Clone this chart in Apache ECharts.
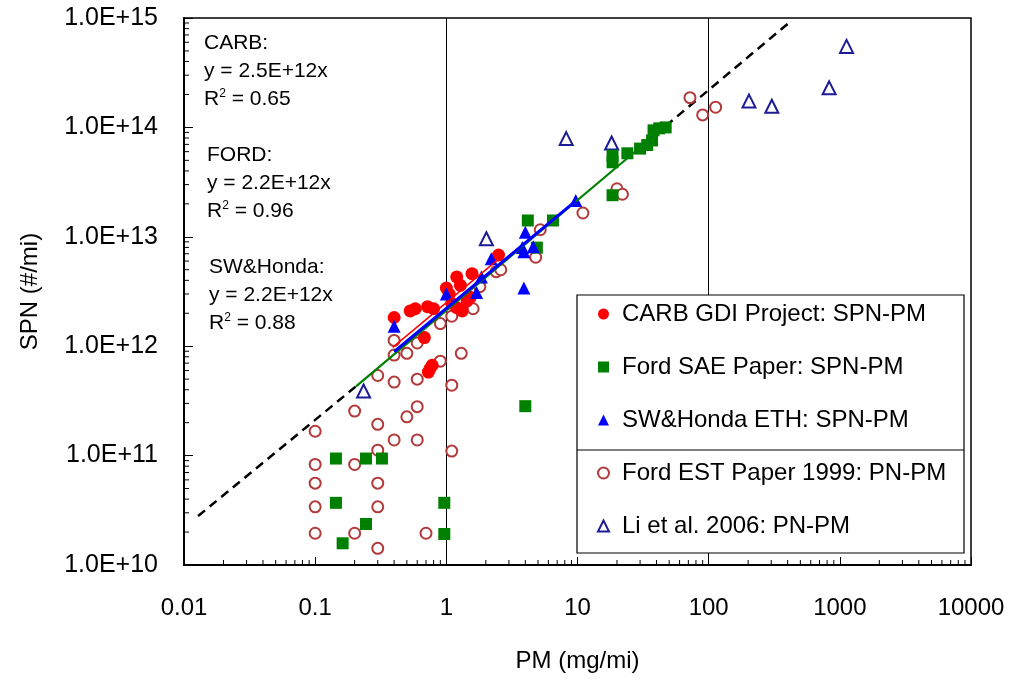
<!DOCTYPE html>
<html>
<head>
<meta charset="UTF-8">
<title>SPN vs PM</title>
<script src="https://cdn.jsdelivr.net/npm/echarts@6/dist/echarts.min.js"></script>
<style>
    html, body { margin: 0; padding: 0; background: #fff; }
    #chart { width: 1013px; height: 688px; }
</style>
</head>
<body>
<div id="chart"></div>
<script>
// [PM mg/mi, SPN #/mi]
var carbData = [
    [0.40, 1.83e12], [0.53, 2.1e12], [0.58, 2.2e12], [0.72, 2.3e12], [0.80, 2.2e12],
    [0.68, 1.2e12], [0.78, 6.7e11], [0.73, 5.8e11], [0.75, 6.2e11], [1.0, 3.4e12],
    [1.2, 4.3e12], [1.28, 3.6e12], [1.2, 2.25e12], [1.32, 2.1e12], [1.44, 2.6e12],
    [1.57, 4.6e12], [1.52, 2.8e12], [2.5, 6.8e12], [1.1, 2.47e12], [1.05, 3.0e12]
];
var fordSaeData = [
    [0.144, 9.4e10], [0.244, 9.4e10], [0.323, 9.4e10], [0.144, 3.7e10], [0.244, 2.37e10],
    [0.162, 1.58e10], [0.965, 3.7e10], [0.965, 1.92e10], [4.0, 2.83e11], [4.18, 1.41e13],
    [6.5, 1.41e13], [4.9, 7.96e12], [18.5, 2.4e13], [18.5, 4.8e13], [18.5, 5.5e13],
    [24, 5.8e13], [30, 6.4e13], [34, 6.9e13], [37, 7.6e13], [38, 9.4e13], [42, 9.8e13], [47, 1.0e14]
];
var swHondaData = [
    [0.40, 1.52e12], [1.0, 3.0e12], [1.7, 3.1e12], [2.2, 6.3e12], [3.9, 3.4e12],
    [3.9, 7.3e12], [4.0, 1.1e13], [4.6, 8.1e12], [9.7, 2.15e13], [1.85, 4.3e12], [3.8, 8.0e12]
];
var fordEstData = [
    [0.1, 1.67e11], [0.1, 8.3e10], [0.1, 5.6e10], [0.1, 3.4e10], [0.1, 1.95e10],
    [0.2, 2.55e11], [0.2, 8.3e10], [0.2, 1.95e10], [0.3, 5.4e11], [0.3, 1.93e11],
    [0.3, 1.12e11], [0.3, 5.6e10], [0.3, 3.4e10], [0.3, 1.42e10], [0.4, 1.13e12],
    [0.4, 8.3e11], [0.4, 4.7e11], [0.4, 1.39e11], [0.5, 8.6e11], [0.5, 2.26e11],
    [0.6, 1.07e12], [0.6, 5.0e11], [0.6, 2.8e11], [0.6, 1.39e11], [0.7, 1.95e10],
    [0.9, 1.61e12], [0.9, 7.3e11], [1.1, 1.88e12], [1.1, 4.4e11], [1.1, 1.1e11],
    [1.3, 8.6e11], [1.6, 2.2e12], [1.8, 3.5e12], [2.4, 4.8e12], [2.6, 5.0e12],
    [4.8, 6.5e12], [5.2, 1.16e13], [11, 1.65e13], [20, 2.75e13], [22, 2.45e13],
    [72, 1.87e14], [90, 1.3e14], [113, 1.53e14]
];
var liData = [
    [0.234, 3.9e11], [2.02, 9.6e12], [8.2, 7.9e13], [18.2, 7.2e13],
    [203, 1.74e14], [303, 1.56e14], [829, 2.3e14], [1125, 5.5e14]
];

// fit lines, end points
var carbFit = [[0.39, 9.75e11], [2.58, 6.45e12]];
var fordFit = [[0.205, 4.3e11], [47, 1.03e14]];
var swFit = [[0.40, 8.9e11], [9.7, 2.13e13]];
// dashed extension, below and above the FORD fit
var dashLow = [[0.0128, 2.8e10], [0.205, 4.3e11]];
var dashHigh = [[47, 1.03e14], [430, 9.5e14]];

var xTickLabels = ['0.01', '0.1', '1', '10', '100', '1000', '10000'];
var yTickLabels = ['1.0E+10', '1.0E+11', '1.0E+12', '1.0E+13', '1.0E+14', '1.0E+15'];
var refLinesX = [1, 100];

// minor ticks 2..9 in each decade
var xMinor = [], yMinor = [];
for (var e = -2; e < 4; e++) {
    for (var k = 2; k < 10; k++) xMinor.push([k * Math.pow(10, e), 1e10]);
}
for (var e2 = 10; e2 < 15; e2++) {
    for (var k2 = 2; k2 < 10; k2++) yMinor.push([0.01, k2 * Math.pow(10, e2)]);
}

var font = 'Liberation Sans, Arial, sans-serif';

var chart = echarts.init(document.getElementById('chart'));

function annot(txt, x, y) {
    return {
        type: 'text', x: x, y: y, z: 5,
        style: {
            text: txt, font: '21px ' + font, fill: '#000',
            textVerticalAlign: 'middle',
            rich: { sup: { fontSize: 12, verticalAlign: 'top', padding: [0, 0, 10, 0], fontFamily: font } }
        }
    };
}

function dashed(name, data) {
    return {
        name: name, type: 'line', data: data, z: 1, showSymbol: false, silent: true,
        lineStyle: { color: '#000', width: 2.5, type: [9, 6] }
    };
}

var option = {
    animation: false,
    backgroundColor: '#fff',
    grid: { left: 184, top: 18, right: 42, bottom: 123, show: true, borderColor: '#000', borderWidth: 1.5 },
    xAxis: {
        type: 'log', logBase: 10, min: 0.01, max: 10000, splitNumber: 6,
        name: 'PM (mg/mi)', nameLocation: 'middle', nameGap: 84,
        nameTextStyle: { fontSize: 24, fontFamily: font, color: '#000' },
        axisLine: { lineStyle: { color: '#000', width: 2 } },
        axisTick: { inside: true, length: 8, lineStyle: { color: '#000' } },
        axisLabel: {
            margin: 31, fontSize: 24, fontFamily: font, color: '#000',
            formatter: function (v) { return xTickLabels[Math.round(Math.log10(v)) + 2]; }
        },
        splitLine: { show: false }
    },
    yAxis: {
        type: 'log', logBase: 10, min: 1e10, max: 1e15, splitNumber: 5,
        name: 'SPN (#/mi)', nameLocation: 'middle', nameGap: 142, nameRotate: 90,
        nameTextStyle: { fontSize: 24, fontFamily: font, color: '#000' },
        axisLine: { lineStyle: { color: '#000', width: 2 } },
        axisTick: { inside: true, length: 9, lineStyle: { color: '#000' } },
        axisLabel: {
            margin: 26, fontSize: 25, fontFamily: font, color: '#000',
            formatter: function (v) { return yTickLabels[Math.round(Math.log10(v)) - 10]; }
        },
        splitLine: { show: false }
    },
    legend: {
        orient: 'vertical', left: 597, top: 302, z: 7,
        itemWidth: 11, itemHeight: 11, itemGap: 29, padding: 0,
        textStyle: { fontSize: 24, fontFamily: font, color: '#000', lineHeight: 24, padding: [0, 0, 0, 8] },
        data: ['CARB GDI Project: SPN-PM', 'Ford SAE Paper: SPN-PM', 'SW&Honda ETH: SPN-PM',
               'Ford EST Paper 1999: PN-PM', 'Li et al. 2006: PN-PM']
    },
    graphic: [
        { type: 'rect', z: 6, shape: { x: 577, y: 295, width: 387, height: 258 },
          style: { fill: '#fff', stroke: '#000', lineWidth: 1.2 } },
        { type: 'line', z: 6, shape: { x1: 577, y1: 450, x2: 964, y2: 450 },
          style: { stroke: '#000', lineWidth: 1.2 } },
        annot('CARB:', 204, 43),
        annot('y = 2.5E+12x', 204, 71),
        annot('R{sup|2} = 0.65', 204, 99),
        annot('FORD:', 207, 155),
        annot('y = 2.2E+12x', 207, 183),
        annot('R{sup|2} = 0.96', 207, 211),
        annot('SW&Honda:', 209, 267),
        annot('y = 2.2E+12x', 209, 295),
        annot('R{sup|2} = 0.88', 209, 323)
    ],
    series: [
        {
            name: 'ref lines', type: 'line', data: [], z: 1, silent: true,
            markLine: {
                silent: true, symbol: 'none', label: { show: false }, z: 1,
                lineStyle: { color: '#000', width: 1, type: 'solid' },
                data: refLinesX.map(function (v) { return { xAxis: v }; })
            }
        },
        dashed('dash low', dashLow),
        dashed('dash high', dashHigh),
        {
            name: 'x minor', type: 'custom', data: xMinor, z: 2, silent: true,
            renderItem: function (params, api) {
                var p = api.coord([api.value(0), api.value(1)]);
                return { type: 'line', shape: { x1: p[0], y1: p[1], x2: p[0], y2: p[1] - 5 }, style: { stroke: '#000', lineWidth: 1 } };
            }
        },
        {
            name: 'y minor', type: 'custom', data: yMinor, z: 2, silent: true,
            renderItem: function (params, api) {
                var p = api.coord([api.value(0), api.value(1)]);
                return { type: 'line', shape: { x1: p[0], y1: p[1], x2: p[0] + 5, y2: p[1] }, style: { stroke: '#000', lineWidth: 1 } };
            }
        },
        {
            name: 'Ford EST Paper 1999: PN-PM', type: 'scatter', data: fordEstData, z: 3,
            symbol: 'emptyCircle', symbolSize: 11,
            itemStyle: { color: '#b23a3a', borderColor: '#b23a3a', borderWidth: 1.2, opacity: 1 }
        },
        {
            name: 'Li et al. 2006: PN-PM', type: 'scatter', data: liData, z: 3,
            symbol: 'emptyTriangle', symbolSize: 13,
            itemStyle: { color: '#1c1c96', borderColor: '#1c1c96', borderWidth: 1.2, opacity: 1 }
        },
        {
            name: 'Ford SAE Paper: SPN-PM', type: 'scatter', data: fordSaeData, z: 3,
            symbol: 'rect', symbolSize: 12, itemStyle: { color: '#008000', opacity: 1 }
        },
        {
            name: 'CARB GDI Project: SPN-PM', type: 'scatter', data: carbData, z: 3,
            symbol: 'circle', symbolSize: 13, itemStyle: { color: '#ff0000', opacity: 1 }
        },
        {
            name: 'SW&Honda ETH: SPN-PM', type: 'scatter', data: swHondaData, z: 3,
            symbol: 'triangle', symbolSize: 13, itemStyle: { color: '#0000ff', opacity: 1 }
        },
        {
            name: 'FORD fit', type: 'line', data: fordFit, z: 4, showSymbol: false, silent: true,
            lineStyle: { color: '#008000', width: 2.2 }
        },
        {
            name: 'CARB fit', type: 'line', data: carbFit, z: 4, showSymbol: false, silent: true,
            lineStyle: { color: '#ff0000', width: 1.5 }
        },
        {
            name: 'SW fit', type: 'line', data: swFit, z: 4, showSymbol: false, silent: true,
            lineStyle: { color: '#0000ff', width: 3 }
        }
    ]
};

chart.setOption(option);
</script>
</body>
</html>
